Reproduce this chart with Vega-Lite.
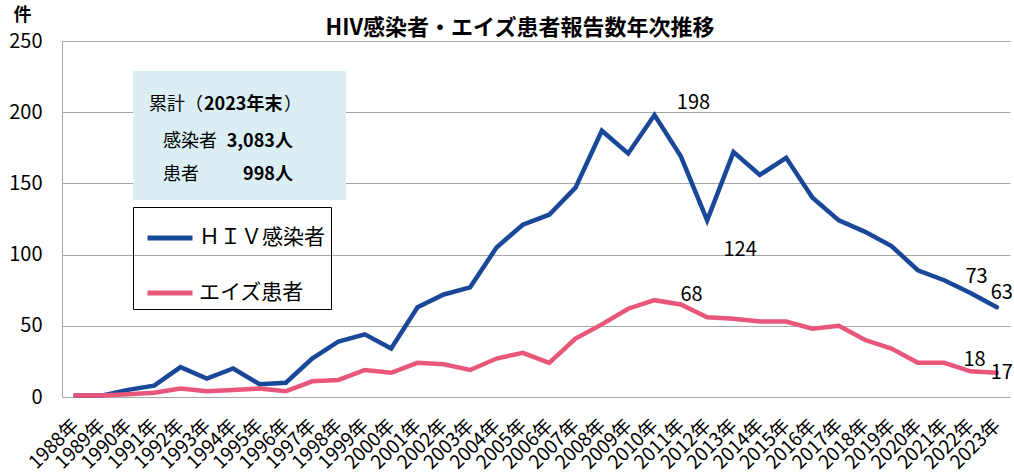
{
  "$schema": "https://vega.github.io/schema/vega-lite/v6.json",
  "width": 948,
  "height": 356,
  "autosize": {"type": "none"},
  "padding": {"left": 62, "top": 41, "right": 4, "bottom": 79},
  "background": "white",
  "config": {"font": "Noto Sans CJK JP", "view": {"stroke": null}, "axis": {"labelOverlap": false}, "axisX": {"labelOverlap": false}, "axisQuantitative": {"labelOverlap": false}},
  "title": {"text": "HIV感染者・エイズ患者報告数年次推移", "fontSize": 22, "fontWeight": "bold", "font": "Noto Sans CJK JP", "color": "#000000", "anchor": "middle", "dx": -16, "offset": 8, "dy": 42},
  "data": {"values": [
    {"year": 1988, "series": "ＨＩＶ感染者", "value": 1},
    {"year": 1989, "series": "ＨＩＶ感染者", "value": 1},
    {"year": 1990, "series": "ＨＩＶ感染者", "value": 5},
    {"year": 1991, "series": "ＨＩＶ感染者", "value": 8},
    {"year": 1992, "series": "ＨＩＶ感染者", "value": 21},
    {"year": 1993, "series": "ＨＩＶ感染者", "value": 13},
    {"year": 1994, "series": "ＨＩＶ感染者", "value": 20},
    {"year": 1995, "series": "ＨＩＶ感染者", "value": 9},
    {"year": 1996, "series": "ＨＩＶ感染者", "value": 10},
    {"year": 1997, "series": "ＨＩＶ感染者", "value": 27},
    {"year": 1998, "series": "ＨＩＶ感染者", "value": 39},
    {"year": 1999, "series": "ＨＩＶ感染者", "value": 44},
    {"year": 2000, "series": "ＨＩＶ感染者", "value": 34},
    {"year": 2001, "series": "ＨＩＶ感染者", "value": 63},
    {"year": 2002, "series": "ＨＩＶ感染者", "value": 72},
    {"year": 2003, "series": "ＨＩＶ感染者", "value": 77},
    {"year": 2004, "series": "ＨＩＶ感染者", "value": 105},
    {"year": 2005, "series": "ＨＩＶ感染者", "value": 121},
    {"year": 2006, "series": "ＨＩＶ感染者", "value": 128},
    {"year": 2007, "series": "ＨＩＶ感染者", "value": 147},
    {"year": 2008, "series": "ＨＩＶ感染者", "value": 187},
    {"year": 2009, "series": "ＨＩＶ感染者", "value": 171},
    {"year": 2010, "series": "ＨＩＶ感染者", "value": 198},
    {"year": 2011, "series": "ＨＩＶ感染者", "value": 169},
    {"year": 2012, "series": "ＨＩＶ感染者", "value": 124},
    {"year": 2013, "series": "ＨＩＶ感染者", "value": 172},
    {"year": 2014, "series": "ＨＩＶ感染者", "value": 156},
    {"year": 2015, "series": "ＨＩＶ感染者", "value": 168},
    {"year": 2016, "series": "ＨＩＶ感染者", "value": 140},
    {"year": 2017, "series": "ＨＩＶ感染者", "value": 124},
    {"year": 2018, "series": "ＨＩＶ感染者", "value": 116},
    {"year": 2019, "series": "ＨＩＶ感染者", "value": 106},
    {"year": 2020, "series": "ＨＩＶ感染者", "value": 89},
    {"year": 2021, "series": "ＨＩＶ感染者", "value": 82},
    {"year": 2022, "series": "ＨＩＶ感染者", "value": 73},
    {"year": 2023, "series": "ＨＩＶ感染者", "value": 63},
    {"year": 1988, "series": "エイズ患者", "value": 1},
    {"year": 1989, "series": "エイズ患者", "value": 1},
    {"year": 1990, "series": "エイズ患者", "value": 2},
    {"year": 1991, "series": "エイズ患者", "value": 3},
    {"year": 1992, "series": "エイズ患者", "value": 6},
    {"year": 1993, "series": "エイズ患者", "value": 4},
    {"year": 1994, "series": "エイズ患者", "value": 5},
    {"year": 1995, "series": "エイズ患者", "value": 6},
    {"year": 1996, "series": "エイズ患者", "value": 4},
    {"year": 1997, "series": "エイズ患者", "value": 11},
    {"year": 1998, "series": "エイズ患者", "value": 12},
    {"year": 1999, "series": "エイズ患者", "value": 19},
    {"year": 2000, "series": "エイズ患者", "value": 17},
    {"year": 2001, "series": "エイズ患者", "value": 24},
    {"year": 2002, "series": "エイズ患者", "value": 23},
    {"year": 2003, "series": "エイズ患者", "value": 19},
    {"year": 2004, "series": "エイズ患者", "value": 27},
    {"year": 2005, "series": "エイズ患者", "value": 31},
    {"year": 2006, "series": "エイズ患者", "value": 24},
    {"year": 2007, "series": "エイズ患者", "value": 41},
    {"year": 2008, "series": "エイズ患者", "value": 51},
    {"year": 2009, "series": "エイズ患者", "value": 62},
    {"year": 2010, "series": "エイズ患者", "value": 68},
    {"year": 2011, "series": "エイズ患者", "value": 65},
    {"year": 2012, "series": "エイズ患者", "value": 56},
    {"year": 2013, "series": "エイズ患者", "value": 55},
    {"year": 2014, "series": "エイズ患者", "value": 53},
    {"year": 2015, "series": "エイズ患者", "value": 53},
    {"year": 2016, "series": "エイズ患者", "value": 48},
    {"year": 2017, "series": "エイズ患者", "value": 50},
    {"year": 2018, "series": "エイズ患者", "value": 40},
    {"year": 2019, "series": "エイズ患者", "value": 34},
    {"year": 2020, "series": "エイズ患者", "value": 24},
    {"year": 2021, "series": "エイズ患者", "value": 24},
    {"year": 2022, "series": "エイズ患者", "value": 18},
    {"year": 2023, "series": "エイズ患者", "value": 17}
  ]},
  "layer": [
    {
      "mark": {"type": "line", "strokeWidth": 4.5, "strokeCap": "round"},
      "encoding": {
        "x": {"field": "year", "type": "quantitative",
          "scale": {"domain": [1987.5, 2023.5], "nice": false, "zero": false},
          "axis": {"values": [1988,1989,1990,1991,1992,1993,1994,1995,1996,1997,1998,1999,2000,2001,2002,2003,2004,2005,2006,2007,2008,2009,2010,2011,2012,2013,2014,2015,2016,2017,2018,2019,2020,2021,2022,2023],
            "tickCount": 36,
            "labelExpr": "datum.value + '年'", "labelAngle": -45, "labelAlign": "right", "labelBaseline": "middle", "grid": false, "domain": false, "ticks": false,
            "labelFontSize": 19, "labelPadding": 25, "labelColor": "#000000", "labelOverlap": false, "labelBound": false, "labelFlush": false, "title": null, "labelFont": "Noto Sans CJK JP"}},
        "y": {"field": "value", "type": "quantitative",
          "scale": {"domain": [0, 250], "nice": false},
          "axis": {"values": [0, 50, 100, 150, 200, 250], "grid": true, "gridColor": "#A6A6A6", "gridWidth": 1, "domainColor": "#A6A6A6", "domainWidth": 1, "ticks": false,
            "labelFontSize": 20, "labelPadding": 20, "labelColor": "#000000", "labelFont": "Noto Sans CJK JP",
            "title": "件", "titleAngle": 0, "titleX": -40, "titleY": -21, "titleAlign": "center", "titleBaseline": "alphabetic", "titleFontSize": 18, "titleFontWeight": "bold", "titleColor": "#000000"}},
        "color": {"field": "series", "type": "nominal",
          "scale": {"domain": ["ＨＩＶ感染者", "エイズ患者"], "range": ["#1A4899", "#E8577A"]},
          "legend": {"title": null, "orient": "none", "legendX": 71, "legendY": 166, "direction": "vertical",
            "symbolType": "stroke", "symbolSize": 2025, "symbolStrokeWidth": 5, "symbolOffset": 6, "labelFontSize": 21, "labelColor": "#000000", "labelFont": "Noto Sans CJK JP",
            "strokeColor": "#000000", "padding": 6, "rowPadding": 20, "labelOffset": 4, "fillColor": null}}
      }
    },
    {
      "data": {"values": [{}]},
      "mark": {"type": "rect", "color": "#DAEEF3"},
      "encoding": {
        "x": {"datum": 1990.196, "type": "quantitative"},
        "x2": {"datum": 1998.285},
        "y": {"datum": 228.9, "type": "quantitative"},
        "y2": {"datum": 138.3}
      }
    },
    {
      "data": {"values": [{}]},
      "mark": {"type": "text", "text": "累計（", "align": "left", "baseline": "middle", "fontSize": 18, "color": "#000000"},
      "encoding": {"x": {"datum": 1990.804, "type": "quantitative"}, "y": {"datum": 205.1, "type": "quantitative"}}
    },
    {
      "data": {"values": [{}]},
      "mark": {"type": "text", "text": "2023年末", "align": "left", "baseline": "middle", "fontSize": 18, "fontWeight": "bold", "color": "#000000"},
      "encoding": {"x": {"datum": 1992.892, "type": "quantitative"}, "y": {"datum": 205.1, "type": "quantitative"}}
    },
    {
      "data": {"values": [{}]},
      "mark": {"type": "text", "text": "）", "align": "left", "baseline": "middle", "fontSize": 18, "color": "#000000"},
      "encoding": {"x": {"datum": 1995.93, "type": "quantitative"}, "y": {"datum": 205.1, "type": "quantitative"}}
    },
    {
      "data": {"values": [{}]},
      "mark": {"type": "text", "text": "感染者", "align": "left", "baseline": "middle", "fontSize": 18, "color": "#000000"},
      "encoding": {"x": {"datum": 1991.335, "type": "quantitative"}, "y": {"datum": 179.3, "type": "quantitative"}}
    },
    {
      "data": {"values": [{}]},
      "mark": {"type": "text", "text": "3,083人", "align": "right", "baseline": "middle", "fontSize": 18, "fontWeight": "bold", "color": "#000000"},
      "encoding": {"x": {"datum": 1996.272, "type": "quantitative"}, "y": {"datum": 179.3, "type": "quantitative"}}
    },
    {
      "data": {"values": [{}]},
      "mark": {"type": "text", "text": "患者", "align": "left", "baseline": "middle", "fontSize": 18, "color": "#000000"},
      "encoding": {"x": {"datum": 1991.335, "type": "quantitative"}, "y": {"datum": 155.9, "type": "quantitative"}}
    },
    {
      "data": {"values": [{}]},
      "mark": {"type": "text", "text": "998人", "align": "right", "baseline": "middle", "fontSize": 18, "fontWeight": "bold", "color": "#000000"},
      "encoding": {"x": {"datum": 1996.272, "type": "quantitative"}, "y": {"datum": 155.9, "type": "quantitative"}}
    },
    {
      "transform": [{"filter": "datum.year == 2010 && datum.series == 'ＨＩＶ感染者'"}],
      "mark": {"type": "text", "dx": 39, "dy": -12, "fontSize": 20, "align": "center", "baseline": "middle", "color": "#000000"},
      "encoding": {"x": {"field": "year", "type": "quantitative"}, "y": {"field": "value", "type": "quantitative"}, "text": {"field": "value", "type": "quantitative"}}
    },
    {
      "transform": [{"filter": "datum.year == 2012 && datum.series == 'ＨＩＶ感染者'"}],
      "mark": {"type": "text", "dx": 33, "dy": 30, "fontSize": 20, "align": "center", "baseline": "middle", "color": "#000000"},
      "encoding": {"x": {"field": "year", "type": "quantitative"}, "y": {"field": "value", "type": "quantitative"}, "text": {"field": "value", "type": "quantitative"}}
    },
    {
      "transform": [{"filter": "datum.year == 2010 && datum.series == 'エイズ患者'"}],
      "mark": {"type": "text", "dx": 37, "dy": -5, "fontSize": 20, "align": "center", "baseline": "middle", "color": "#000000"},
      "encoding": {"x": {"field": "year", "type": "quantitative"}, "y": {"field": "value", "type": "quantitative"}, "text": {"field": "value", "type": "quantitative"}}
    },
    {
      "transform": [{"filter": "datum.year == 2022 && datum.series == 'ＨＩＶ感染者'"}],
      "mark": {"type": "text", "dx": 6, "dy": -16, "fontSize": 20, "align": "center", "baseline": "middle", "color": "#000000"},
      "encoding": {"x": {"field": "year", "type": "quantitative"}, "y": {"field": "value", "type": "quantitative"}, "text": {"field": "value", "type": "quantitative"}}
    },
    {
      "transform": [{"filter": "datum.year == 2023 && datum.series == 'ＨＩＶ感染者'"}],
      "mark": {"type": "text", "dx": 5, "dy": -14, "fontSize": 20, "align": "center", "baseline": "middle", "color": "#000000"},
      "encoding": {"x": {"field": "year", "type": "quantitative"}, "y": {"field": "value", "type": "quantitative"}, "text": {"field": "value", "type": "quantitative"}}
    },
    {
      "transform": [{"filter": "datum.year == 2022 && datum.series == 'エイズ患者'"}],
      "mark": {"type": "text", "dx": 4, "dy": -11, "fontSize": 20, "align": "center", "baseline": "middle", "color": "#000000"},
      "encoding": {"x": {"field": "year", "type": "quantitative"}, "y": {"field": "value", "type": "quantitative"}, "text": {"field": "value", "type": "quantitative"}}
    },
    {
      "transform": [{"filter": "datum.year == 2023 && datum.series == 'エイズ患者'"}],
      "mark": {"type": "text", "dx": 5, "dy": 0, "fontSize": 20, "align": "center", "baseline": "middle", "color": "#000000"},
      "encoding": {"x": {"field": "year", "type": "quantitative"}, "y": {"field": "value", "type": "quantitative"}, "text": {"field": "value", "type": "quantitative"}}
    }
  ]
}
